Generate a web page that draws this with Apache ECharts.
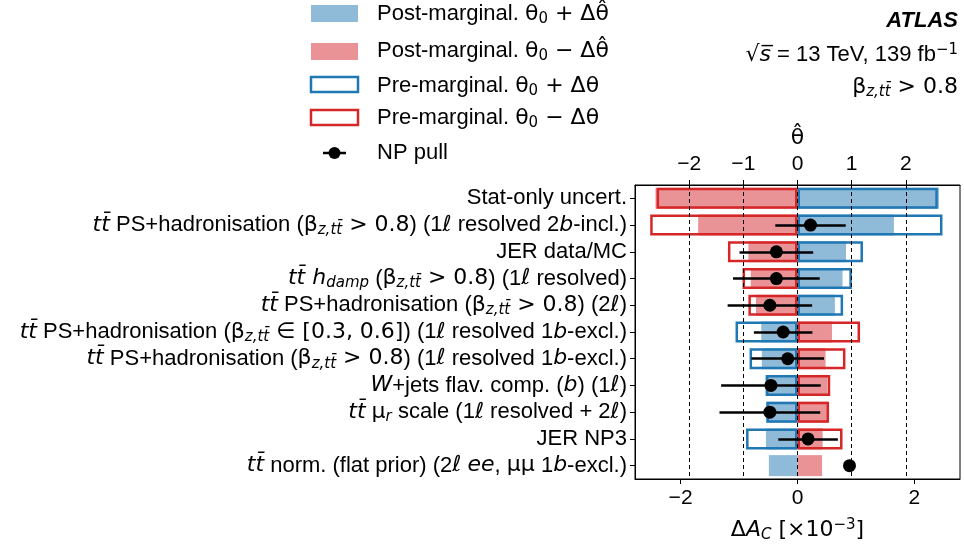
<!DOCTYPE html>
<html><head><meta charset="utf-8">
<script src="https://cdn.jsdelivr.net/npm/echarts@6/dist/echarts.min.js"></script>
<style>html,body{margin:0;padding:0;background:#fff}#c{width:964px;height:550px}</style>
</head><body><div id="c"></div>
<script>
// ---- data ----
const categories = [
  'Stat-only uncert.',
  '{gi|tt\u0304} PS+hadronisation ({g|β}{gsi|z,tt\u0304}{g| > 0.8}) (1{g|ℓ} resolved 2{gi|b}-incl.)',
  'JER data/MC',
  '{gi|tt\u0304 h}{gsi|damp} ({g|β}{gsi|z,tt\u0304}{g| > 0.8}) (1{g|ℓ} resolved)',
  '{gi|tt\u0304} PS+hadronisation ({g|β}{gsi|z,tt\u0304}{g| > 0.8}) (2{g|ℓ})',
  '{gi|tt\u0304} PS+hadronisation ({g|β}{gsi|z,tt\u0304}{g| ∈ [0.3, 0.6]}) (1{g|ℓ} resolved 1{gi|b}-excl.)',
  '{gi|tt\u0304} PS+hadronisation ({g|β}{gsi|z,tt\u0304}{g| > 0.8}) (1{g|ℓ} resolved 1{gi|b}-excl.)',
  '{gi|W}+jets flav. comp. ({gi|b}) (1{g|ℓ})',
  '{gi|tt\u0304} {g|μ}{gsi|r} scale (1{g|ℓ} resolved + 2{g|ℓ})',
  'JER NP3',
  '{gi|tt\u0304} norm. (flat prior) (2{g|ℓ} {gi|ee}, {g|μμ} 1{gi|b}-excl.)'
];
const postUp   = [2.42, 1.65, 0.83, 0.77, 0.64, -0.62, -0.61, -0.55, -0.54, -0.54, -0.49];
const postDown = [-2.43, -1.70, -0.84, -0.80, -0.71, 0.59, 0.48, 0.51, 0.52, 0.43, 0.42];
const preUp    = [2.40, 2.48, 1.12, 0.93, 0.78, -1.06, -0.82, -0.54, -0.53, -0.88, null];
const preDown  = [-2.41, -2.52, -1.19, -0.94, -0.84, 1.07, 0.82, 0.56, 0.54, 0.77, null];
const pull     = [null, 0.24, -0.39, -0.39, -0.51, -0.265, -0.18, -0.49, -0.51, 0.195, 0.96];
const pullErr  = [null, 0.65, 0.68, 0.80, 0.78, 0.54, 0.67, 0.92, 0.93, 0.55, 0];
const bottomTicks = [-2, 0, 2];
const topTicks = [-2, -1, 0, 1, 2];

// ---- styles ----
const FONT = '"Liberation Sans", Arial, Helvetica, sans-serif';
const GFONT = '"DejaVu Sans", sans-serif';
const FS = 22;
const BLUE = '#1f77b4', RED = '#d62728', BLUE_F = '#8fbbd9', RED_F = '#ea9396';
const minus = v => (v < 0 ? '\u2212' + Math.abs(v) : String(v));
const richBase = (fs) => {
  const s = Math.round(fs * 0.7), off = Math.round(fs * 0.45);
  return {
    i: {fontStyle: 'italic', fontSize: fs, fontFamily: FONT, color: '#000'},
    g: {fontSize: fs, fontFamily: GFONT, color: '#000'},
    gi: {fontStyle: 'italic', fontSize: fs, fontFamily: GFONT, color: '#000'},
    gsi: {fontStyle: 'italic', fontSize: s, fontFamily: GFONT, color: '#000', padding: [off, 0, 0, 0]},
    gsub: {fontSize: s, fontFamily: GFONT, color: '#000', padding: [off, 0, 0, 0]},
    gsup: {fontSize: s, fontFamily: GFONT, color: '#000', padding: [0, 0, off, 0]}
  };
};

const pullData = [], errLines = [];
pull.forEach((p, i) => {
  if (p === null) return;
  pullData.push([p, i]);
  if (pullErr[i] > 0) {
    errLines.push([{coord: [p - pullErr[i], i]}, {coord: [p + pullErr[i], i], lineStyle: {type: 'solid', width: 2.5, color: '#000'}}]);
  }
});
const gridLines = topTicks.map(v => ({xAxis: v, lineStyle: {type: [4, 3], width: 1, color: '#000'}}));

const chart = echarts.init(document.getElementById('c'), null, {renderer: 'canvas'});
chart.setOption({
  animation: false,
  backgroundColor: '#fff',
  textStyle: {fontFamily: FONT},
  grid: {left: 635, right: 4, top: 185, bottom: 71, show: true, borderColor: '#000', borderWidth: 1, backgroundColor: 'transparent'},
  xAxis: [
    {
      type: 'value', position: 'bottom', min: -2.78, max: 2.78,
      axisLine: {show: true, onZero: false, lineStyle: {color: '#000', width: 1}},
      axisTick: {show: true, customValues: bottomTicks, length: 5, lineStyle: {color: '#000'}},
      axisLabel: {customValues: bottomTicks, formatter: minus, fontSize: 21, color: '#000', margin: 9, fontFamily: FONT},
      splitLine: {show: false},
      name: '{g|Δ}{gi|A}{gsi|C}{g| [×10}{gsup|−3}{g|]}', nameLocation: 'middle', nameGap: 39,
      nameTextStyle: {fontSize: FS, color: '#000', fontFamily: GFONT, rich: richBase(FS)}
    },
    {
      type: 'value', position: 'top', min: -3, max: 3, interval: 1,
      axisLine: {show: true, onZero: false, lineStyle: {color: '#000', width: 1}},
      axisTick: {show: true, customValues: topTicks, length: 5, lineStyle: {color: '#000'}},
      axisLabel: {customValues: topTicks, formatter: minus, fontSize: 21, color: '#000', margin: 10, fontFamily: FONT},
      splitLine: {show: false},
      name: '{g|θ\u0302}', nameLocation: 'middle', nameGap: 29,
      nameTextStyle: {fontSize: FS, color: '#000', fontFamily: GFONT, rich: richBase(FS)}
    }
  ],
  yAxis: {
    type: 'category', inverse: true, data: categories,
    axisLine: {show: true, onZero: false, lineStyle: {color: '#000', width: 1}},
    axisTick: {show: true, alignWithLabel: true, interval: 0, length: 5, lineStyle: {color: '#000'}},
    axisLabel: {interval: 0, hideOverlap: false, fontSize: FS, color: '#000', margin: 8, fontFamily: FONT, rich: richBase(FS)},
    splitLine: {show: false}
  },
  series: [
    {type: 'bar', name: 'postUp', data: postUp, xAxisIndex: 0, barWidth: 21, barGap: '-100%', itemStyle: {color: BLUE_F}, z: 2},
    {type: 'bar', name: 'postDown', data: postDown, xAxisIndex: 0, barWidth: 21, barGap: '-100%', itemStyle: {color: RED_F}, z: 2},
    {type: 'bar', name: 'preUp', data: preUp, xAxisIndex: 0, barWidth: 21, barGap: '-100%', itemStyle: {color: 'rgba(0,0,0,0)', borderColor: BLUE, borderWidth: 2.5}, z: 3},
    {type: 'bar', name: 'preDown', data: preDown, xAxisIndex: 0, barWidth: 21, barGap: '-100%', itemStyle: {color: 'rgba(0,0,0,0)', borderColor: RED, borderWidth: 2.5}, z: 3},
    {
      type: 'scatter', name: 'pull', xAxisIndex: 1, yAxisIndex: 0, data: pullData,
      symbol: 'circle', symbolSize: 13, itemStyle: {color: '#000', opacity: 1}, z: 10,
      markLine: {
        silent: true, symbol: 'none', label: {show: false}, animation: false,
        lineStyle: {type: [4, 3], color: '#000', width: 1},
        data: gridLines.concat(errLines)
      }
    }
  ],
  graphic: [
    {type: 'rect', shape: {x: 311, y: 5, width: 47, height: 17}, style: {fill: BLUE_F}},
    {type: 'rect', shape: {x: 311, y: 43, width: 47, height: 17}, style: {fill: RED_F}},
    {type: 'rect', shape: {x: 311, y: 77, width: 47, height: 15}, style: {fill: 'none', stroke: BLUE, lineWidth: 2.5}},
    {type: 'rect', shape: {x: 311, y: 110, width: 47, height: 15}, style: {fill: 'none', stroke: RED, lineWidth: 2.5}},
    {type: 'line', shape: {x1: 323, y1: 153, x2: 346, y2: 153}, style: {stroke: '#000', lineWidth: 2.5}},
    {type: 'circle', shape: {cx: 334.5, cy: 153, r: 6}, style: {fill: '#000'}},
    {type: 'text', x: 377, y: 14, style: {text: 'Post-marginal. {g|θ}{gsub|0}{g| + Δθ\u0302}', font: FS + 'px ' + FONT, fill: '#000', verticalAlign: 'middle', rich: richBase(FS)}},
    {type: 'text', x: 377, y: 51, style: {text: 'Post-marginal. {g|θ}{gsub|0}{g| − Δθ\u0302}', font: FS + 'px ' + FONT, fill: '#000', verticalAlign: 'middle', rich: richBase(FS)}},
    {type: 'text', x: 377, y: 86, style: {text: 'Pre-marginal. {g|θ}{gsub|0}{g| + Δθ}', font: FS + 'px ' + FONT, fill: '#000', verticalAlign: 'middle', rich: richBase(FS)}},
    {type: 'text', x: 377, y: 118, style: {text: 'Pre-marginal. {g|θ}{gsub|0}{g| − Δθ}', font: FS + 'px ' + FONT, fill: '#000', verticalAlign: 'middle', rich: richBase(FS)}},
    {type: 'text', x: 377, y: 153, style: {text: 'NP pull', font: FS + 'px ' + FONT, fill: '#000', verticalAlign: 'middle'}},
    {type: 'text', x: 958, y: 21, style: {text: 'ATLAS', font: 'italic bold 22px ' + FONT, fill: '#000', align: 'right', verticalAlign: 'middle'}},
    {type: 'text', x: 958, y: 55, style: {text: '{g|√}{gi|s\u0305} = 13 TeV, 139 fb{gsup|−1}', font: FS + 'px ' + FONT, fill: '#000', align: 'right', verticalAlign: 'middle', rich: richBase(FS)}},
    {type: 'text', x: 958, y: 87, style: {text: '{g|β}{gsi|z,tt\u0304}{g| > 0.8}', font: FS + 'px ' + FONT, fill: '#000', align: 'right', verticalAlign: 'middle', rich: richBase(FS)}}
  ]
});
</script>
</body></html>
